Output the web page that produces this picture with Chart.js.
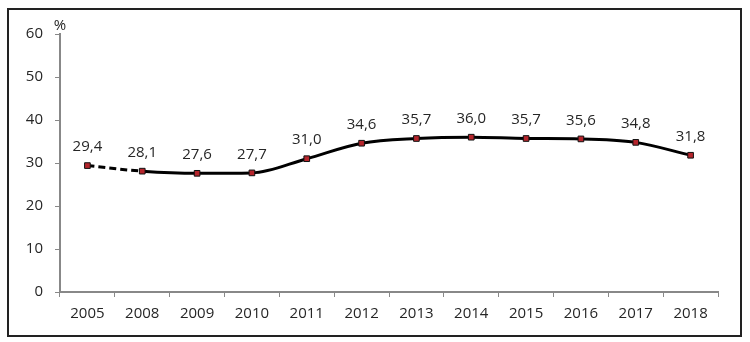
<!DOCTYPE html>
<html><head><meta charset="utf-8">
<script src="https://cdn.jsdelivr.net/npm/chart.js@4/dist/chart.umd.min.js"></script>
<style>html,body{margin:0;padding:0;background:#fff}#wrap{width:750px;height:342px;position:relative}</style>
</head><body><div id="wrap"><canvas id="c" width="750" height="342"></canvas></div>
<script>
const categories = ['2005','2008','2009','2010','2011','2012','2013','2014','2015','2016','2017','2018'];
const values = [29.4, 28.1, 27.6, 27.7, 31.0, 34.6, 35.7, 36.0, 35.7, 35.6, 34.8, 31.8];
const yTicks = [0,10,20,30,40,50,60];
const unitLabel = '%';
const FONT = "'Open Sans', sans-serif";

const deco = {
  id: 'deco',
  afterDraw(chart) {
    const ctx = chart.ctx;
    ctx.save();
    ctx.strokeStyle = '#222';
    ctx.lineWidth = 2;
    ctx.strokeRect(8, 9, 733, 327);
    const meta = chart.getDatasetMeta(0);
    ctx.fillStyle = '#262626';
    ctx.font = "15px " + FONT;
    ctx.textAlign = 'center';
    ctx.textBaseline = 'bottom';
    meta.data.forEach((pt, i) => {
      ctx.fillText(values[i].toFixed(1).replace('.', ','), pt.x, pt.y - 11);
    });
    ctx.font = "15px " + FONT;
    ctx.fillText(unitLabel, chart.chartArea.left, chart.chartArea.top - 1);
    ctx.restore();
  }
};

new Chart(document.getElementById('c'), {
  type: 'line',
  data: {
    labels: categories,
    datasets: [{
      data: values,
      borderColor: '#000',
      borderWidth: 3,
      cubicInterpolationMode: 'monotone',
      pointStyle: 'rect',
      pointRadius: 4,
      pointBackgroundColor: '#b5252c',
      pointBorderColor: '#111',
      pointBorderWidth: 1,
      segment: { borderDash: c => c.p0DataIndex === 0 ? [7, 4] : undefined }
    }]
  },
  options: {
    responsive: false,
    animation: false,
    layout: { padding: { left: 0, right: 32, top: 34, bottom: 0 } },
    plugins: { legend: { display: false }, tooltip: { enabled: false } },
    scales: {
      x: {
        offset: true,
        grid: { drawOnChartArea: false, offset: true, tickLength: 5, color: '#888', lineWidth: 1 },
        border: { color: '#888', width: 2 },
        ticks: { color: '#262626', font: { family: FONT, size: 15 }, padding: 8, maxRotation: 0 },
        afterFit(s) { s.height = 50; }
      },
      y: {
        min: 0, max: 60,
        afterBuildTicks(s) { s.ticks = yTicks.map(v => ({ value: v })); },
        grid: { drawOnChartArea: false, tickLength: 5, color: '#888', lineWidth: 1 },
        border: { color: '#888', width: 2 },
        ticks: { color: '#262626', font: { family: FONT, size: 15 }, padding: 12 },
        afterFit(s) { s.width = 60; }
      }
    }
  },
  plugins: [deco]
});
</script></body></html>
